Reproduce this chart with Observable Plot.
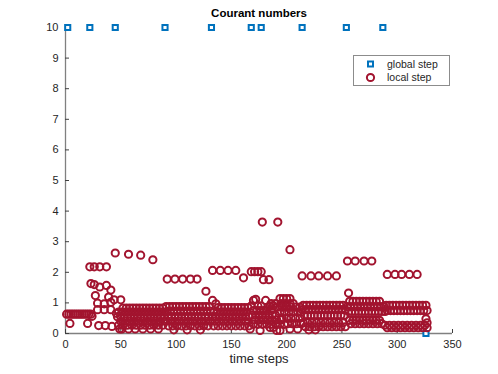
<!DOCTYPE html>
<html><head><meta charset="utf-8">
<script src="https://cdn.jsdelivr.net/npm/d3@7"></script>
<script src="https://cdn.jsdelivr.net/npm/@observablehq/plot@0.6"></script>
<style>
body{margin:0;background:#fff;font-family:"Liberation Sans",Arial,sans-serif}
#wrap{position:relative;width:498px;height:374px}
#legend{position:absolute;left:353px;top:55px;width:95px;height:29px;border:1px solid #8c8c8c;background:#fff;font-size:10.5px;color:#262626}
#legend div{position:absolute;left:33px}
#legend svg{position:absolute;left:0;top:0}
</style></head><body><div id="wrap"><div id="legend">
<svg width="30" height="29"><rect x="14" y="5.5" width="5" height="5" fill="#fff" stroke="#0072BD" stroke-width="2"/><circle cx="16.5" cy="21.5" r="3.6" fill="none" stroke="#A2142F" stroke-width="2"/></svg>
<div style="top:2px">global step</div><div style="top:15px">local step</div></div></div>
<script>
const xTicks = [0, 50, 100, 150, 200, 250, 300, 350];
const yTicks = [0, 1, 2, 3, 4, 5, 6, 7, 8, 9, 10];

const globalSteps = [2, 22, 45, 90, 132, 168, 177, 214, 254, 287, 326];
const globalCourant = [10, 10, 10, 10, 10, 10, 10, 10, 10, 10, 0];

// local step Courant numbers: [value, [time steps]]
const localA = [
  [0.63, [1, 3, 5, 7, 9, 11, 13, 15, 17, 19, 21, 23]],
  [0.33, [4, 20]]
];
const localB = [
  [2.18, [22, 26, 31, 37]],
  [1.63, [23]], [1.6, [26]], [1.52, [31]], [1.57, [37]], [1.42, [41]],
  [1.24, [27]], [1.19, [39]], [1.1, [44, 50]],
  [0.99, [29]], [0.97, [35]], [1.02, [41]],
  [0.78, [29, 35, 41]], [0.66, [46]],
  [0.56, [24]], [0.26, [30, 36]], [0.23, [42]], [0.15, [49]]
];
const localC = [
  [2.63, [45]], [2.59, [57]], [2.56, [68]], [2.41, [79]],
  [0.83, [52, 55, 58, 61, 64, 67, 70, 73, 76, 79, 82, 85, 88]],
  [0.7, [48, 51, 54, 57, 60, 63, 66, 69, 72, 75, 78, 81, 84, 87, 90]],
  [0.55, [47, 50, 53, 56, 59, 62, 65, 68, 71, 74, 77, 80, 83, 86, 89]],
  [0.4, [50, 54, 58, 62, 66, 70, 74, 78, 82, 86, 90]],
  [0.27, [48, 52, 56, 60, 64, 68, 72, 76, 80, 84, 88]],
  [0.15, [51, 57, 63, 70, 77, 84]]
];
const localD = [
  [1.78, [92, 99, 106, 113, 119]], [1.38, [127]],
  [0.88, [91, 94, 97, 100, 103, 106, 109, 112, 115, 118, 121, 124, 127, 130]],
  [0.72, [92, 95, 98, 101, 104, 107, 110, 113, 116, 119, 122, 125, 128, 131]],
  [0.55, [93, 96, 99, 102, 105, 108, 111, 114, 117, 120, 123, 126, 129]],
  [0.4, [91, 95, 99, 103, 107, 111, 115, 119, 123, 127, 131]],
  [0.25, [93, 97, 101, 105, 109, 113, 117, 121, 125, 129]],
  [0.12, [98, 110, 122]]
];
const localE = [
  [2.06, [133, 140, 147, 154]], [1.82, [161]],
  [1.08, [133]], [0.97, [136]],
  [0.85, [138, 141, 144, 147, 150, 153, 156, 159, 162, 165]],
  [0.7, [134, 137, 140, 143, 146, 149, 152, 155, 158, 161, 164]],
  [0.55, [133, 136, 139, 142, 145, 148, 151, 154, 157, 160, 163, 166]],
  [0.4, [135, 139, 143, 147, 151, 155, 159, 163]],
  [0.25, [134, 138, 142, 146, 150, 154, 158, 162, 166]],
  [0.15, [167]]
];
const localF = [
  [2.02, [168, 171, 174, 177]], [1.76, [179, 184]], [3.64, [178, 192]], [2.74, [203]],
  [1.08, [170, 181]], [1.12, [172]],
  [0.9, [168, 174, 177, 185, 188]], [0.86, [183]],
  [0.75, [170, 173, 176, 179, 182, 186]],
  [0.6, [169, 172, 175, 178, 181, 184, 187, 190]],
  [0.45, [171, 175, 179, 183, 187, 191, 195]],
  [0.3, [170, 174, 178, 182, 186, 190, 194, 198]],
  [0.1, [176, 191, 194]], [0.2, [185, 188]],
  [1.14, [194, 197, 200, 203]],
  [0.98, [186, 190, 195, 199, 203, 206]],
  [0.86, [192, 196, 200, 204, 208, 212]],
  [0.7, [194, 198, 202, 206, 210, 213]],
  [0.5, [196, 200, 204, 208, 212]],
  [0.32, [201, 205, 209, 213]],
  [0.15, [203, 210]]
];
const localG = [
  [1.88, [214, 222, 229, 237, 245]],
  [0.92, [215, 218, 221, 224, 227, 230, 233, 236, 239, 242, 245, 248, 251]],
  [0.78, [214, 217, 220, 223, 226, 229, 232, 235, 238, 241, 244, 247, 250, 253]],
  [0.6, [216, 219, 222, 225, 228, 231, 234, 237, 240, 243, 246, 249, 252]],
  [0.35, [215, 219, 223, 227, 231, 235, 239, 243, 247, 251]],
  [0.22, [217, 221, 225, 229, 233, 237, 241, 245, 249, 253]],
  [0.12, [220, 226]]
];
const localH = [
  [2.37, [255, 262, 270, 277]], [1.32, [256]],
  [1.05, [257, 260, 263, 266, 269, 272, 275, 278, 281, 284]],
  [0.88, [255, 258, 261, 264, 267, 270, 273, 276, 279, 282, 285, 288]],
  [0.72, [256, 259, 262, 265, 268, 271, 274, 277, 280, 283, 286, 289]],
  [0.43, [257, 260, 263, 266, 269, 272, 275, 278, 281, 284]],
  [0.32, [258, 262, 266, 270, 274, 278, 282, 286]]
];
const localI = [
  [1.93, [291, 298, 304, 311, 318]],
  [0.92, [290, 293, 296, 299, 302, 305, 308, 311, 314, 317, 320, 323, 326]],
  [0.75, [291, 294, 297, 300, 303, 306, 309, 312, 315, 318, 321, 324, 327]],
  [0.48, [326]], [0.35, [327]],
  [0.27, [289, 293, 297, 301, 305, 309, 313, 317, 321, 325]],
  [0.19, [291, 295, 299, 303, 307, 311, 315, 319, 323, 327]]
];

const local = [localA, localB, localC, localD, localE, localF, localG, localH, localI]
  .flat().flatMap(([v, steps]) => steps.map(s => ({step: s, courant: v})));
const global = globalSteps.map((s, i) => ({step: s, courant: globalCourant[i]}));

const axisColor = "#808080";
const chart = Plot.plot({
  width: 498, height: 374,
  marginLeft: 65, marginRight: 46, marginTop: 27, marginBottom: 41,
  style: {fontFamily: "Liberation Sans, Arial, sans-serif", fontSize: "11px", color: "#262626", background: "#fff"},
  x: {domain: [0, 350]},
  y: {domain: [0, 10]},
  marks: [
    Plot.ruleY([0], {stroke: axisColor, strokeWidth: 1.3}),
    Plot.ruleX([0], {stroke: axisColor, strokeWidth: 1.3}),
    Plot.axisX({ticks: xTicks, tickSize: 0, tickPadding: 7, label: null, fill: "#262626"}),
    Plot.axisX({ticks: xTicks, tickSize: 4, dy: -4, fill: "none", stroke: "#404040", label: null}),
    Plot.axisY({ticks: yTicks, tickSize: 0, tickPadding: 7, label: null, fill: "#262626"}),
    Plot.axisY({ticks: yTicks, tickSize: 4, dx: 4, fill: "none", stroke: "#404040", label: null}),
    Plot.dot(global, {x: "step", y: "courant", symbol: "square", r: 2.9, stroke: "#0072BD", strokeWidth: 2, fill: "#fff"}),
    Plot.dot(local, {x: "step", y: "courant", r: 3.6, stroke: "#A2142F", strokeWidth: 2, fill: "none"}),
    Plot.text(["Courant numbers"], {frameAnchor: "top", dy: -14, fontWeight: "bold", fontSize: 11.5, fill: "#000", lineAnchor: "middle"}),
    Plot.text(["time steps"], {frameAnchor: "bottom", dy: 25, fontSize: 13, fill: "#262626", lineAnchor: "middle"})
  ]
});
document.getElementById("wrap").prepend(chart);
</script></body></html>
